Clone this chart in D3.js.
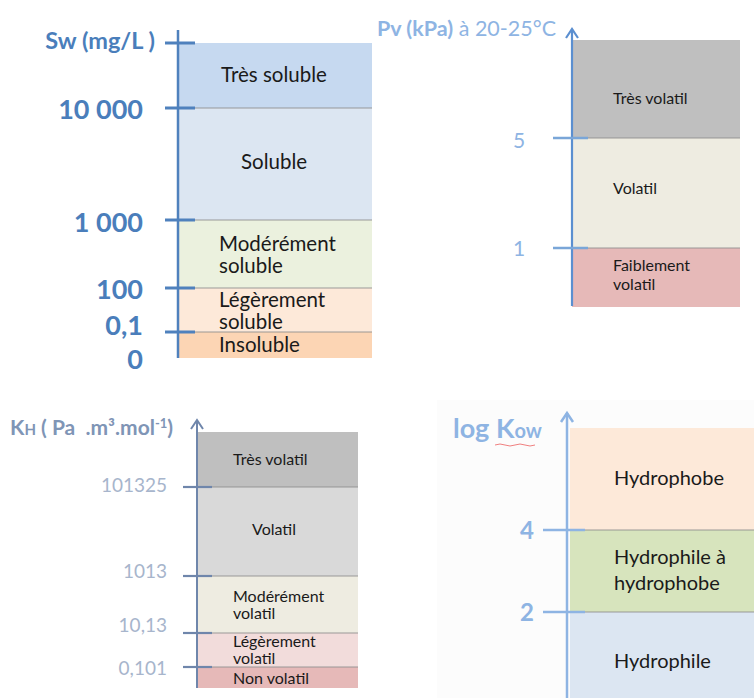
<!DOCTYPE html>
<html><head><meta charset="utf-8">
<script src="https://cdn.jsdelivr.net/npm/d3@7"></script>
<style>
html,body{margin:0;padding:0;background:#fff;}
svg{display:block;font-family:Lato, "Open Sans", sans-serif;}
text{white-space:pre;}
</style></head>
<body>
<svg id="c" width="754" height="698"></svg>
<script>
// ---- Panel 1 : Solubilité Sw (mg/L)
const swBounds = [0, 0.1, 100, 1000, 10000, 100000];
const swTickLabels = ["0", "0,1", "100", "1 000", "10 000"];
const swCategories = [["Insoluble"], ["Légèrement", "soluble"], ["Modérément", "soluble"], ["Soluble"], ["Très soluble"]];
const swColors = ["#fcd5b4", "#fde9d9", "#ebf1de", "#dce6f2", "#c6d9f0"];

// ---- Panel 2 : Pression de vapeur Pv (kPa)
const pvBounds = [0, 1, 5, 10];
const pvTickLabels = ["1", "5"];
const pvCategories = [["Faiblement", "volatil"], ["Volatil"], ["Très volatil"]];
const pvColors = ["#e6b9b8", "#eeece1", "#bfbfbf"];

// ---- Panel 3 : Constante de Henry KH
const khBounds = [0, 0.101, 10.13, 1013, 101325, 1000000];
const khTickLabels = ["0,101", "10,13", "1013", "101325"];
const khCategories = [["Non volatil"], ["Légèrement", "volatil"], ["Modérément", "volatil"], ["Volatil"], ["Très volatil"]];
const khColors = ["#e6b9b8", "#f2dcdb", "#eeece1", "#d9d9d9", "#bfbfbf"];

// ---- Panel 4 : log Kow
const kowBounds = [0, 2, 4, 6];
const kowTickLabels = ["2", "4"];
const kowCategories = [["Hydrophile"], ["Hydrophile à", "hydrophobe"], ["Hydrophobe"]];
const kowColors = ["#dce6f2", "#d7e4bd", "#fde9d9"];

const svg = d3.select("#c");

// faint background of panel 4
svg.append("rect").attr("x", 437).attr("y", 400).attr("width", 317).attr("height", 298).attr("fill", "#fcfcfc");

function panel(o) {
  const y = d3.scaleLinear().domain(o.bounds).range(o.pixels);
  const g = svg.append("g");
  const n = o.bounds.length - 1;
  const bands = d3.range(n).map(i => ({lo: o.bounds[i], hi: o.bounds[i + 1], lab: o.cats[i], col: o.colors[i]}));
  const x = d3.scaleLinear().domain([0, 1]).range([o.x0, o.x1]);
  g.selectAll("rect.band").data(bands).join("rect")
    .attr("x", x(0)).attr("width", x(1) - x(0))
    .attr("y", d => y(d.hi)).attr("height", d => y(d.lo) - y(d.hi))
    .attr("fill", d => d.col);
  g.selectAll("line.bd").data(o.bounds.slice(1, n)).join("line")
    .attr("x1", x(0)).attr("x2", x(1)).attr("y1", d => y(d)).attr("y2", d => y(d))
    .attr("stroke", "#8f8f8f").attr("stroke-opacity", 0.6).attr("stroke-width", 1.5);
  bands.forEach((b, i) => {
    const t = g.append("text").attr("fill", "#1a1a1a").attr("font-size", o.fs)
      .attr("text-anchor", o.anchor ? o.anchor(i) : "start");
    const cy = o.labelY(i, y);
    const lx = o.labelX(i, x);
    b.lab.forEach((s, k) => {
      t.append("tspan").attr("x", lx).attr("y", cy + (k - (b.lab.length - 1) / 2) * o.lh)
        .attr("dy", "0.35em").text(s);
    });
  });
  g.append("line").attr("x1", o.ax).attr("x2", o.ax).attr("y1", o.axTop).attr("y2", o.axBot)
    .attr("stroke", o.axColor).attr("stroke-width", o.axW);
  if (o.arrow) {
    g.append("path").attr("d", `M${o.ax - 6},${o.axTop + 9} L${o.ax},${o.axTop} L${o.ax + 6},${o.axTop + 9}`)
      .attr("fill", "none").attr("stroke", o.axColor).attr("stroke-width", o.axW);
  }
  g.selectAll("line.tk").data(o.tickVals).join("line")
    .attr("x1", o.ax - o.tL).attr("x2", o.ax + o.tR)
    .attr("y1", d => y(d)).attr("y2", d => y(d))
    .attr("stroke", o.tickColor).attr("stroke-width", o.tW);
  g.selectAll("text.tl").data(o.tickLabels).join("text")
    .attr("x", o.lblX).attr("y", (d, i) => y(o.labelVals[i]) + o.lblDy[i])
    .attr("dy", "0.36em").attr("text-anchor", o.lblAnchor || "end")
    .attr("font-size", o.lblFs).attr("font-weight", o.lblW).attr("fill", o.lblColor)
    .text(d => d);
  return {g, y};
}

// Panel 1
panel({
  bounds: swBounds, pixels: [358, 332, 288, 220, 108, 43],
  cats: swCategories, colors: swColors, x0: 178, x1: 372, fs: 20.5, lh: 22,
  anchor: i => (i >= 3 ? "middle" : "start"),
  labelX: (i, x) => (i >= 3 ? 274 : 219),
  labelY: (i, y) => [345, 311, 255, 162, 75][i],
  ax: 178, axTop: 30, axBot: 358, axColor: "#4f81bd", axW: 2.5, arrow: false,
  tickVals: [0.1, 100, 1000, 10000, 100000], tL: 13, tR: 17, tickColor: "#4f81bd", tW: 3,
  tickLabels: swTickLabels, labelVals: [0, 0.1, 100, 1000, 10000], lblDy: [1.5, -7, 1, 2, 1],
  lblX: 143, lblFs: 27, lblW: 700, lblColor: "#4a7ebb"
});
svg.append("text").attr("x", 155).attr("y", 41).attr("dy", "0.35em").attr("text-anchor", "end")
  .attr("font-size", 23.5).attr("font-weight", 700).attr("fill", "#4a7ebb").text("Sw (mg/L )");

// Panel 2
panel({
  bounds: pvBounds, pixels: [307, 248, 138, 40],
  cats: pvCategories, colors: pvColors, x0: 572, x1: 740, fs: 16, lh: 19.5,
  labelX: () => 613,
  labelY: (i, y) => [275, 188, 98][i],
  ax: 572, axTop: 29, axBot: 306, axColor: "#5b8fd0", axW: 2.2, arrow: true,
  tickVals: [1, 5], tL: 19, tR: 16, tickColor: "#7aa6d8", tW: 2.5,
  tickLabels: pvTickLabels, labelVals: [1, 5], lblDy: [0, 2],
  lblX: 519, lblAnchor: "middle", lblFs: 21, lblW: 400, lblColor: "#8eb4e3"
});
const t2 = svg.append("text").attr("x", 377).attr("y", 28).attr("dy", "0.35em")
  .attr("font-size", 21.5).attr("fill", "#8eb4e3");
t2.append("tspan").attr("font-weight", 700).text("Pv (kPa)");
t2.append("tspan").text(" à 20-25°C");

// Panel 3
panel({
  bounds: khBounds, pixels: [688, 667, 633, 576, 487, 432],
  cats: khCategories, colors: khColors, x0: 197, x1: 358, fs: 16, lh: 17.5,
  anchor: i => (i === 3 ? "middle" : "start"),
  labelX: (i, x) => (i === 3 ? 274 : 233),
  labelY: (i, y) => [678, 650, 605, 529, 459][i],
  ax: 197, axTop: 420, axBot: 688, axColor: "#6f86ab", axW: 2, arrow: true,
  tickVals: [0.101, 10.13, 1013, 101325], tL: 14, tR: 15, tickColor: "#6f86ab", tW: 2.2,
  tickLabels: khTickLabels, labelVals: [0.101, 10.13, 1013, 101325], lblDy: [1, -8, -5, -2],
  lblX: 167, lblFs: 19, lblW: 400, lblColor: "#a7b5cc"
});
const t3 = svg.append("text").attr("x", 10).attr("y", 428).attr("dy", "0.35em")
  .attr("font-size", 21).attr("font-weight", 700).attr("fill", "#7f95b6");
t3.append("tspan").text("K");
t3.append("tspan").attr("font-size", 15).text("H");
t3.append("tspan").text(" ( Pa  .m³.mol");
t3.append("tspan").attr("font-size", 13).attr("dy", "-7").text("-1");
t3.append("tspan").attr("dy", "7").text(")");

// Panel 4
panel({
  bounds: kowBounds, pixels: [712, 612, 530, 428],
  cats: kowCategories, colors: kowColors, x0: 570, x1: 754, fs: 20, lh: 26,
  labelX: () => 614,
  labelY: (i, y) => [661, 570, 478][i],
  ax: 567, axTop: 413, axBot: 698, axColor: "#8eb4e3", axW: 2.5, arrow: true,
  tickVals: [2, 4], tL: 24, tR: 18, tickColor: "#8eb4e3", tW: 2.5,
  tickLabels: kowTickLabels, labelVals: [2, 4], lblDy: [0, 0],
  lblX: 527, lblAnchor: "middle", lblFs: 24, lblW: 700, lblColor: "#8eb4e3"
});
const t4 = svg.append("text").attr("x", 453).attr("y", 432).attr("dy", "0.35em")
  .attr("font-weight", 700).attr("fill", "#8eb4e3");
t4.append("tspan").attr("font-size", 27).text("log K");
t4.append("tspan").attr("font-size", 20).text("ow");
svg.append("path").attr("d", "M495,445 Q500,443 505,445 T515,445 T525,445 T535,445")
  .attr("fill", "none").attr("stroke", "#f08080").attr("stroke-width", 1);
</script>
</body></html>
